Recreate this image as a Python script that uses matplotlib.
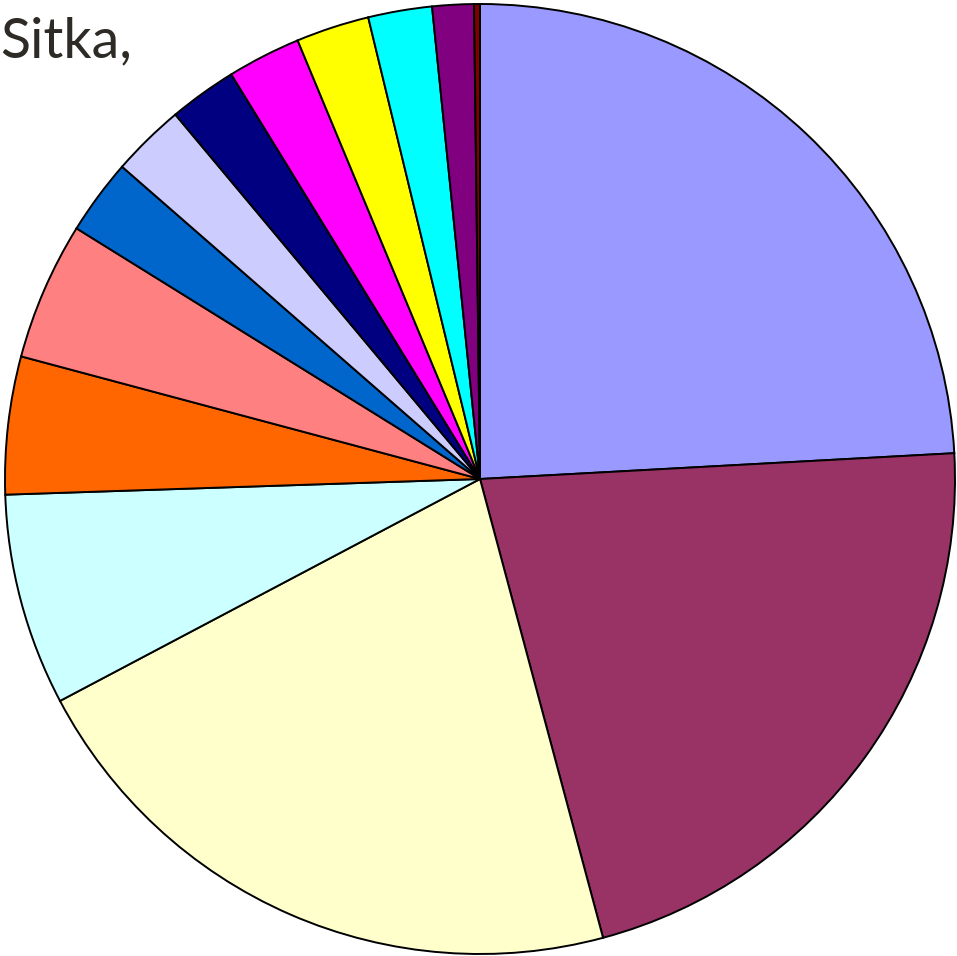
import matplotlib
matplotlib.use("Agg")
import matplotlib.pyplot as plt

# slice shares in percent, clockwise from 12 o'clock
shares = [24.13, 21.69, 21.43, 7.21, 4.68, 4.69, 2.57, 2.50, 2.31, 2.50, 2.49, 2.17, 1.41, 0.20]
colors = [
    "#9999FF", "#993366", "#FFFFCC", "#CCFFFF", "#FF6600", "#FF8080", "#0066CC",
    "#CCCCFF", "#000080", "#FF00FF", "#FFFF00", "#00FFFF", "#800080", "#800000",
]
title_text = "Sitka,"

W, H = 957, 956
fig = plt.figure(figsize=(W / 100, H / 100), dpi=100)
ax = fig.add_axes([0, 0, 1, 1])

ax.pie(
    shares,
    colors=colors,
    startangle=90,
    counterclock=False,
    center=(480, H - 479),
    radius=475,
    frame=True,
    wedgeprops={"edgecolor": "black", "linewidth": 1.4},
)
ax.set_xlim(0, W)
ax.set_ylim(0, H)
ax.set_aspect("equal")
ax.axis("off")

ax.text(0, H - 57, title_text, fontsize=40, family="Lato",
        color="#2E2B26", ha="left", va="baseline")

fig.savefig("out.png", dpi=100)
